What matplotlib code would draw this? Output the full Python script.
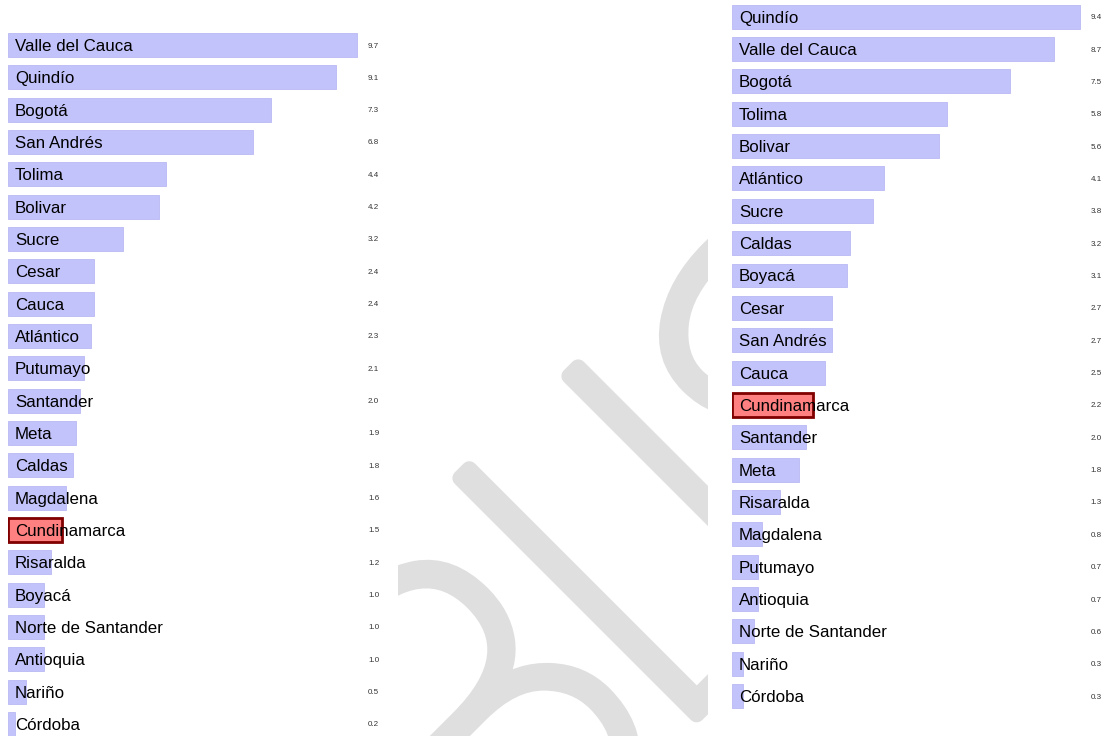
import matplotlib
matplotlib.use("Agg")
import matplotlib.pyplot as plt
from matplotlib.patches import Rectangle, PathPatch
from matplotlib.textpath import TextPath
from matplotlib.font_manager import FontProperties
from matplotlib.transforms import Affine2D, offset_copy

# Left ranking
left_names = ["Valle del Cauca", "Quindío", "Bogotá", "San Andrés", "Tolima", "Bolivar",
              "Sucre", "Cesar", "Cauca", "Atlántico", "Putumayo", "Santander", "Meta",
              "Caldas", "Magdalena", "Cundinamarca", "Risaralda", "Boyacá",
              "Norte de Santander", "Antioquia", "Nariño", "Córdoba"]
left_values = [9.7, 9.1, 7.3, 6.8, 4.4, 4.2, 3.2, 2.4, 2.4, 2.3, 2.1, 2.0, 1.9,
               1.8, 1.6, 1.5, 1.2, 1.0, 1.0, 1.0, 0.5, 0.2]

# Right ranking
right_names = ["Quindío", "Valle del Cauca", "Bogotá", "Tolima", "Bolivar", "Atlántico",
               "Sucre", "Caldas", "Boyacá", "Cesar", "San Andrés", "Cauca", "Cundinamarca",
               "Santander", "Meta", "Risaralda", "Magdalena", "Putumayo", "Antioquia",
               "Norte de Santander", "Nariño", "Córdoba"]
right_values = [9.4, 8.7, 7.5, 5.8, 5.6, 4.1, 3.8, 3.2, 3.1, 2.7, 2.7, 2.5, 2.2,
                2.0, 1.8, 1.3, 0.8, 0.7, 0.7, 0.6, 0.3, 0.3]

highlight = "Cundinamarca"

W, H = 1107, 736
fig = plt.figure(figsize=(W / 100, H / 100), dpi=100)
plt.rcParams["font.family"] = ["Liberation Sans", "DejaVu Sans"]

# big grey lettering behind the charts (pixel units, y measured from the top)
wm = fig.add_axes([0, 0, 1, 1], zorder=0)
wm.set_xlim(0, W)
wm.set_ylim(0, H)
wm.axis("off")
band = Rectangle((398, 0), 310, H, transform=wm.transData)
wm_font = FontProperties(family="Roboto", weight="light")
em = 470
stem = TextPath((0, 0), "I", size=em, prop=wm_font).get_extents().width


def letter(ch, px, py, anchor):
    tp = TextPath((0, 0), ch, size=em, prop=wm_font)
    ext = tp.get_extents()
    x0 = {"right": ext.x1, "center": (ext.x0 + ext.x1) / 2,
          "stem": ext.x0 + stem / 2}[anchor]
    tr = Affine2D().translate(-x0, 0).rotate_deg(45).translate(px, H - py)
    # thin glyph outlines, stroked wider with round ends
    patch = PathPatch(tp, transform=tr + wm.transData, facecolor="#dfdfdf",
                      edgecolor="#dfdfdf", linewidth=11.5,
                      joinstyle="round", capstyle="round")
    wm.add_patch(patch)
    patch.set_clip_path(band)


letter("B", 669, 759, "right")
letter("L", 701, 710, "stem")
letter("I", 810, 608, "center")
letter("S", 946, 491, "center")


def panel(left_px, scale, top_px, step, xmax, value_x, names, values):
    n = len(names)
    ax = fig.add_axes([left_px / W, 1 - (top_px + n * step) / H,
                       xmax * scale / W, n * step / H], zorder=1)
    ax.patch.set_alpha(0)
    ys = list(range(n))
    colors = ["#ff8080" if nm == highlight else "#c3c3fb" for nm in names]
    edges = ["#800000" if nm == highlight else "#b9b9f4" for nm in names]
    widths = [2.0 if nm == highlight else 0.6 for nm in names]
    ax.barh(ys, values, height=0.74, color=colors, edgecolor=edges, linewidth=widths)
    label_tr = offset_copy(ax.transData, fig=fig, x=7, y=0, units="dots")
    for y, nm, v in zip(ys, names, values):
        ax.text(0, y, nm, transform=label_tr, ha="left", va="center_baseline",
                fontsize=12.2, color="black")
        ax.text(value_x, y, f"{v:.1f}", ha="left", va="center_baseline",
                fontsize=5.8, color="#333333")
    ax.set_xlim(0, xmax)
    ax.set_ylim(n - 0.5, -0.5)
    ax.axis("off")
    return ax


panel(8, 36.0, 45 - 32.33 / 2, 32.33, 10.5, 10.0, left_names, left_values)
panel(732, 37.0, 16.7 - 32.35 / 2, 32.35, 10.1, 9.7, right_names, right_values)

fig.savefig("out.png", dpi=100)
